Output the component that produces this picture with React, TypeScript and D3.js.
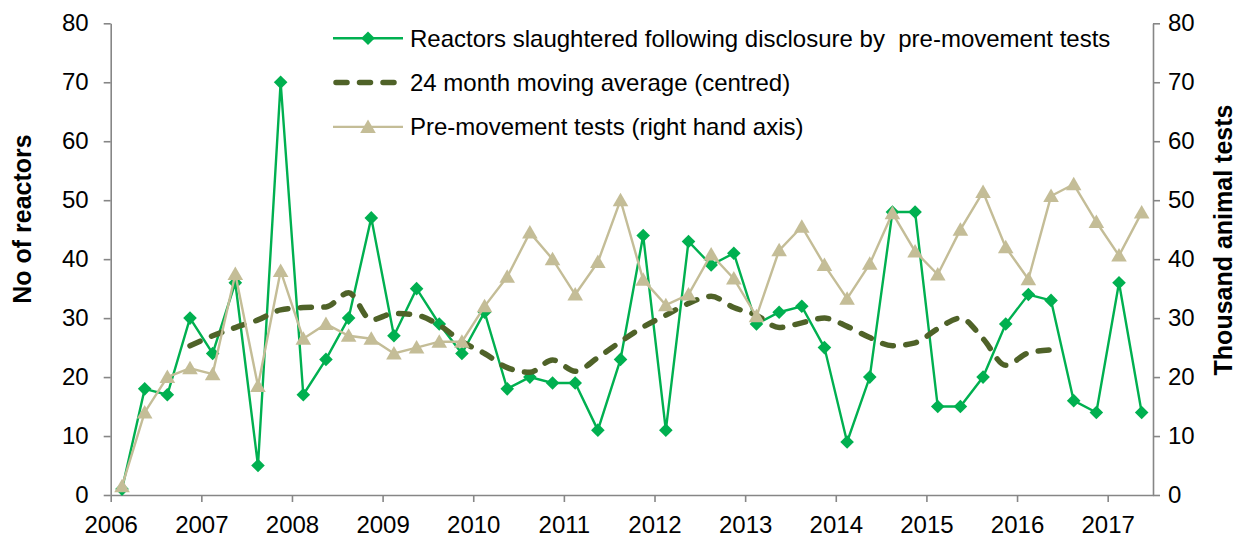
import * as d3 from 'd3';
import { useEffect, useRef } from 'react';

// quarterly categories, 2006 Q1 .. 2017 Q2
const quarters = d3.range(46).map((i) => ({ year: 2006 + Math.floor(i / 4), q: (i % 4) + 1 }));

const reactors = [
  1, 18, 17, 30, 24, 36, 5, 70, 17, 23, 30, 47, 27, 35, 29, 24, 31, 18, 20, 19, 19, 11, 23, 44,
  11, 43, 39, 41, 29, 31, 32, 25, 9, 20, 48, 48, 15, 15, 20, 29, 34, 33, 16, 14, 36, 14,
];

const movingAvg: (number | null)[] = [
  null, null, null, 25.3, 27, 28.4, 29.7, 31.4, 31.8, 31.9, 34.3, 29.7, 30.8, 30.5, 28.8, 26,
  24, 21.6, 20.8, 22.9, 21, 23.3, 26, 28.5, 30.5, 32.5, 33.7, 31.8, 30.5, 28.4, 29.2, 30,
  28.6, 26.7, 25.3, 25.8, 28.2, 30, 26.5, 22, 24.1, 24.6, null, null, null, null,
];

const tests = [
  1.5, 14, 20, 21.5, 20.5, 37.5, 18.5, 38, 26.5, 29, 27, 26.5, 24, 25, 26, 26, 32, 37, 44.5, 40,
  34, 39.5, 50, 36.5, 32.2, 34, 40.8, 36.7, 30.3, 41.5, 45.5, 39, 33.3, 39.2, 47.8, 41.3, 37.4,
  45, 51.4, 42, 36.6, 50.7, 52.7, 46.3, 40.6, 47.9,
];

const yearTicks = d3.range(2006, 2018);
const valueTicks = d3.range(0, 90, 10);

const legendItems = [
  { label: 'Reactors slaughtered following disclosure by  pre-movement tests', kind: 'reactors' },
  { label: '24 month moving average (centred)', kind: 'avg' },
  { label: 'Pre-movement tests (right hand axis)', kind: 'tests' },
];

const GREEN = '#00b050';
const OLIVE = '#4f6228';
const TAN = '#c4bd97';
const AXIS = '#868686';
const FONT = 'Arial, "Liberation Sans", sans-serif';

const diamond = 'M0,-6.8L6.8,0L0,6.8L-6.8,0Z';
const triangle = 'M0,-7.5L7.8,6L-7.8,6Z';

const App = () => {
  const ref = useRef<SVGSVGElement>(null);
  const width = 1240;
  const height = 537;
  const margin = { left: 110.7, right: 1153, top: 23.3, bottom: 495 };

  useEffect(() => {
    document.body.style.margin = '0';
    const svg = d3.select(ref.current);
    svg.selectAll('*').remove();

    const x = d3.scaleLinear().domain([2006, 2017.5]).range([margin.left, margin.right]);
    const y = d3.scaleLinear().domain([0, 80]).range([margin.bottom, margin.top]);
    const yR = d3.scaleLinear().domain([0, 80]).range([margin.bottom, margin.top]);
    const qx = (i: number) => x(quarters[i].year + (quarters[i].q - 1) / 4 + 0.125);

    const styleAxis = (g: any) => {
      g.select('.domain').attr('stroke', AXIS).attr('stroke-width', 1.6);
      g.selectAll('.tick line').attr('stroke', AXIS).attr('stroke-width', 1.6);
      g.selectAll('.tick text').attr('fill', '#000').style('font-size', '24px').style('font-family', FONT);
    };

    svg
      .append('g')
      .attr('transform', `translate(${margin.left},0)`)
      .call(d3.axisLeft(y).tickValues(valueTicks).tickSize(7).tickSizeOuter(0).tickPadding(15))
      .call(styleAxis);

    svg
      .append('g')
      .attr('transform', `translate(${margin.right},0)`)
      .call(d3.axisRight(yR).tickValues(valueTicks).tickSize(7).tickSizeOuter(0).tickPadding(8))
      .call(styleAxis);

    svg
      .append('g')
      .attr('transform', `translate(0,${margin.bottom})`)
      .call(
        d3.axisBottom(x).tickValues(yearTicks).tickFormat(d3.format('d')).tickSize(7).tickSizeOuter(0).tickPadding(14)
      )
      .call(styleAxis);

    // reactors
    const lineR = d3
      .line<number>()
      .x((_, i) => qx(i))
      .y((d) => y(d));
    svg.append('path').attr('d', lineR(reactors)).attr('fill', 'none').attr('stroke', GREEN).attr('stroke-width', 2.4);
    svg
      .selectAll('.dia')
      .data(reactors)
      .enter()
      .append('path')
      .attr('class', 'dia')
      .attr('d', diamond)
      .attr('transform', (d, i) => `translate(${qx(i)},${y(d)})`)
      .attr('fill', GREEN);

    // moving average
    const avgPts = movingAvg
      .map((v, i) => ({ v, i }))
      .filter((p) => p.v !== null) as { v: number; i: number }[];
    const lineA = d3
      .line<{ v: number; i: number }>()
      .x((p) => qx(p.i))
      .y((p) => y(p.v))
      .curve(d3.curveMonotoneX);
    svg
      .append('path')
      .attr('d', lineA(avgPts))
      .attr('fill', 'none')
      .attr('stroke', OLIVE)
      .attr('stroke-width', 5.5)
      .attr('stroke-linecap', 'round')
      .attr('stroke-dasharray', '11 12.5');

    // tests (right axis)
    const lineT = d3
      .line<number>()
      .x((_, i) => qx(i))
      .y((d) => yR(d));
    svg.append('path').attr('d', lineT(tests)).attr('fill', 'none').attr('stroke', TAN).attr('stroke-width', 2.4);
    svg
      .selectAll('.tri')
      .data(tests)
      .enter()
      .append('path')
      .attr('class', 'tri')
      .attr('d', triangle)
      .attr('transform', (d, i) => `translate(${qx(i)},${yR(d)})`)
      .attr('fill', TAN);

    // axis titles
    svg
      .append('text')
      .attr('transform', 'translate(31,219) rotate(-90)')
      .attr('text-anchor', 'middle')
      .style('font-family', FONT)
      .style('font-size', '25px')
      .style('font-weight', 'bold')
      .text('No of reactors');
    svg
      .append('text')
      .attr('transform', 'translate(1232,240) rotate(-90)')
      .attr('text-anchor', 'middle')
      .style('font-family', FONT)
      .style('font-size', '25px')
      .style('font-weight', 'bold')
      .text('Thousand animal tests');

    // legend
    const legend = svg
      .selectAll('.legend')
      .data(legendItems)
      .enter()
      .append('g')
      .attr('class', 'legend')
      .attr('transform', (d, i) => `translate(333,${38.3 + i * 44.3})`);
    legend.each(function (d) {
      const g = d3.select(this);
      if (d.kind === 'avg') {
        g.append('line')
          .attr('x1', 3).attr('x2', 70)
          .attr('stroke', OLIVE).attr('stroke-width', 5.5)
          .attr('stroke-linecap', 'round').attr('stroke-dasharray', '11 12.5');
      } else {
        const c = d.kind === 'reactors' ? GREEN : TAN;
        g.append('line').attr('x1', 0).attr('x2', 70).attr('stroke', c).attr('stroke-width', 2.4);
        g.append('path')
          .attr('d', d.kind === 'reactors' ? diamond : triangle)
          .attr('transform', 'translate(35,0)')
          .attr('fill', c);
      }
      g.append('text')
        .attr('x', 77)
        .attr('dy', '0.35em')
        .style('font-family', FONT)
        .style('font-size', '24px')
        .style('white-space', 'pre')
        .text(d.label);
    });
  }, []);

  return <svg ref={ref} width={width} height={height} style={{ display: 'block', background: '#fff' }} />;
};

export default App;
